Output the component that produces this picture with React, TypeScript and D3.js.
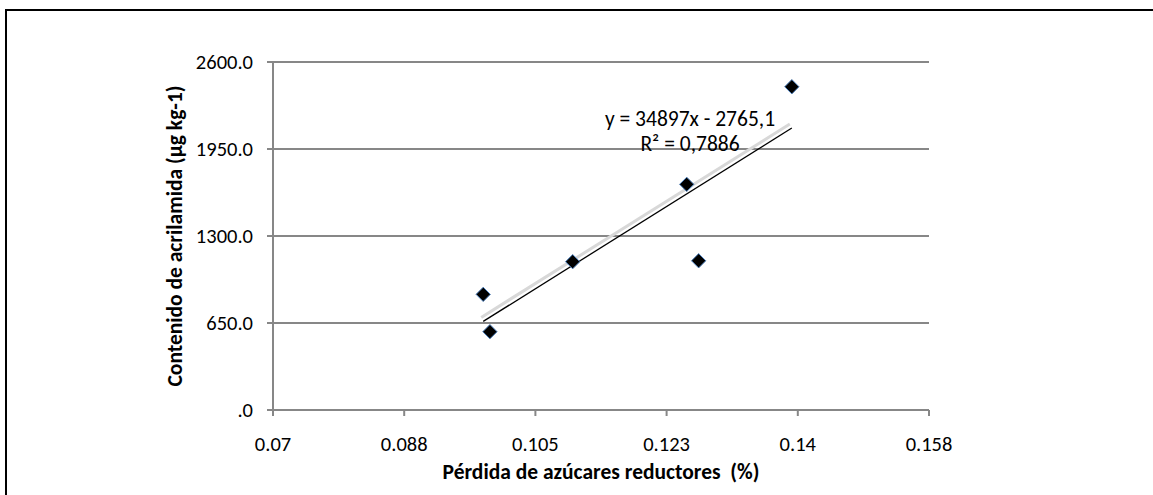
import React from 'react';
import * as d3 from 'd3';

// values
const perdida = [0.0982, 0.0991, 0.1102, 0.1255, 0.1271, 0.1396];
const acrilamida = [864, 585, 1108, 1686, 1115, 2415];
const xTicks = [0.07, 0.0876, 0.1052, 0.1228, 0.1404, 0.158];
const yTicks = [0, 650, 1300, 1950, 2600];
const slope = 34897;
const intercept = -2765.1;
const eqLabel = 'y = 34897x - 2765,1';
const r2Label = 'R² = 0,7886';

const W = 1153;
const H = 495;
const margin = { top: 62, right: 224, bottom: 85, left: 273 };
const font = 'Calibri, Carlito, Lato, sans-serif';
const gridColor = '#878787';

const fmtX = (v: number) => String(+v.toFixed(3));
const fmtY = (v: number) => (v === 0 ? '.0' : v.toFixed(1));

const App = () => {
    const x = d3
        .scaleLinear()
        .domain([0.07, 0.158])
        .range([margin.left, W - margin.right]);
    const y = d3
        .scaleLinear()
        .domain([0, 2600])
        .range([H - margin.bottom, margin.top]);

    const x0 = d3.min(perdida) as number;
    const x1 = d3.max(perdida) as number;
    const trend = d3.line<number>()
        .x(d => x(d))
        .y(d => y(slope * d + intercept));
    const trendPath = trend([x0, x1]) || '';

    const diamond = d3.symbol().type(d3.symbolDiamond2).size(130)() || '';

    return (
        <svg
            width={W}
            height={H}
            style={{ position: 'absolute', left: 0, top: 0, background: '#fff' }}
        >
            <rect x={6} y={10} width={W + 20} height={H + 20} fill="#fff" stroke="#000" strokeWidth={2} />

            {/* gridlines */}
            {yTicks.map(t => (
                <g key={'g' + t}>
                    <line x1={x(0.07) - 6} x2={x(0.158)} y1={y(t)} y2={y(t)} stroke={gridColor} strokeWidth={2} />
                    <text
                        x={x(0.07) - 20}
                        y={y(t)}
                        dy="0.35em"
                        textAnchor="end"
                        fontFamily={font}
                        fontSize={20.5}
                        fill="#000"
                    >
                        {fmtY(t)}
                    </text>
                </g>
            ))}

            {/* y axis line */}
            <line x1={x(0.07)} x2={x(0.07)} y1={y(2600)} y2={y(0)} stroke={gridColor} strokeWidth={2} />

            {/* x ticks */}
            {xTicks.map(t => (
                <g key={'x' + t}>
                    <line x1={x(t)} x2={x(t)} y1={y(0)} y2={y(0) + 6} stroke={gridColor} strokeWidth={2} />
                    <text
                        x={x(t)}
                        y={y(0) + 41}
                        textAnchor="middle"
                        fontFamily={font}
                        fontSize={20.5}
                        fill="#000"
                    >
                        {fmtX(t)}
                    </text>
                </g>
            ))}

            {/* trendline with soft shadow */}
            <path d={trendPath} transform="translate(-2,-4)" stroke="#d8d8d8" strokeWidth={3} fill="none" />
            <path d={trendPath} stroke="#000" strokeWidth={1.3} fill="none" />

            {/* points */}
            {perdida.map((v, i) => (
                <path
                    key={'p' + i}
                    d={diamond}
                    transform={`translate(${x(v)},${y(acrilamida[i])})`}
                    fill="#000"
                    stroke="#4a7ebb"
                    strokeWidth={1}
                />
            ))}

            {/* equation */}
            <text x={690} y={126} textAnchor="middle" fontFamily={font} fontSize={21.5} fill="#000">
                {eqLabel}
            </text>
            <text x={690} y={151} textAnchor="middle" fontFamily={font} fontSize={21.5} fill="#000">
                {r2Label}
            </text>

            {/* axis titles */}
            <text
                x={(x(0.07) + x(0.158)) / 2}
                y={479}
                textAnchor="middle"
                fontFamily={font}
                fontWeight="bold"
                fontSize={21.5}
                fill="#000"
                style={{ whiteSpace: 'pre' }}
            >
                Pérdida de azúcares reductores  (%)
            </text>
            <text
                transform={`translate(182,${(y(0) + y(2600)) / 2}) rotate(-90)`}
                textAnchor="middle"
                fontFamily={font}
                fontWeight="bold"
                fontSize={21.5}
                fill="#000"
                style={{ whiteSpace: 'pre' }}
            >
                Contenido de acrilamida (µg kg-1)
            </text>
        </svg>
    );
};

export default App;
